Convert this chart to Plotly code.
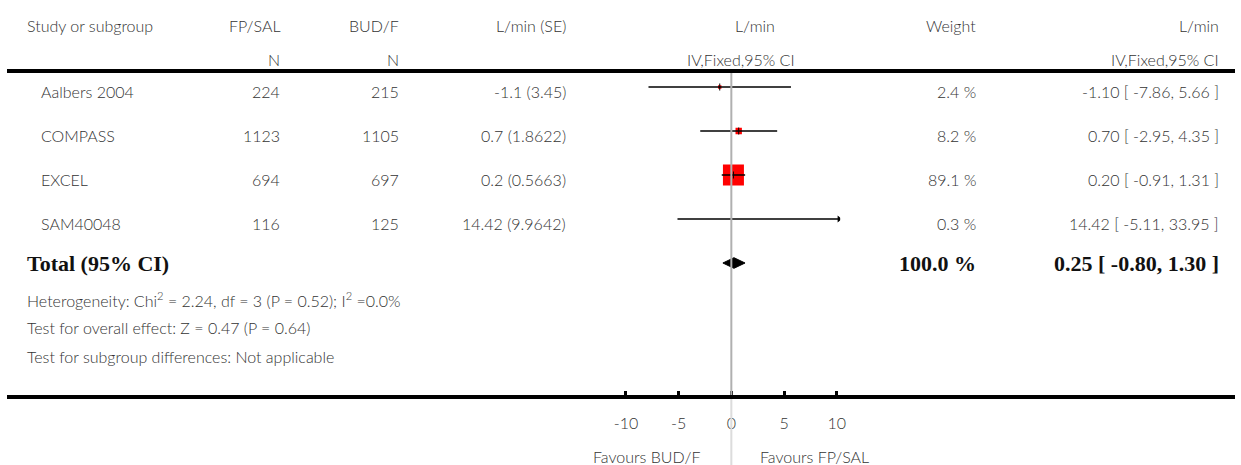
import plotly.graph_objects as go

# ---------------- data ----------------
studies = ["Aalbers 2004", "COMPASS", "EXCEL", "SAM40048"]
n_fpsal = [224, 1123, 694, 116]
n_budf = [215, 1105, 697, 125]
md_se_text = ["-1.1 (3.45)", "0.7 (1.8622)", "0.2 (0.5663)", "14.42 (9.9642)"]
md = [-1.1, 0.7, 0.2, 14.42]
ci_lo = [-7.86, -2.95, -0.91, -5.11]
ci_hi = [5.66, 4.35, 1.31, 33.95]
weights = [2.4, 8.2, 89.1, 0.3]
total_md, total_lo, total_hi = 0.25, -0.80, 1.30
total_weight = 100.0
tick_vals = [-10, -5, 0, 5, 10]
tick_text = ["-10", "-5", "0", "5", "10"]
heterogeneity = "Heterogeneity: Chi<sup>2</sup> = 2.24, df = 3 (P = 0.52); I<sup>2</sup> =0.0%"
overall = "Test for overall effect: Z = 0.47 (P = 0.64)"
subgroup = "Test for subgroup differences: Not applicable"

# ---------------- geometry ----------------
W, H = 1241, 465
ZERO_PX, PX_PER_UNIT = 732, 10.65
DOM_L, DOM_R = 620, 842
XMIN = (DOM_L - ZERO_PX) / PX_PER_UNIT
XMAX = (DOM_R - ZERO_PX) / PX_PER_UNIT
AXIS_PX = 397
ROW0_PX, ROW_STEP = 87, 44


def ry(p):
    return (p - ROW0_PX) / ROW_STEP


def px(x):
    return x / W


YTOP, YBOT = ry(0), ry(AXIS_PX)

SANS = dict(family="Lato", size=16, color="#333333", weight=300)
SERIF = dict(family="Liberation Serif", size=22, color="#111111", weight="bold")

fig = go.Figure()

# squares (weight-sized)
ys = list(range(len(studies)))
sizes = [21 * (w / max(weights)) ** 0.5 for w in weights]
fig.add_trace(go.Scatter(x=md, y=ys, mode="markers",
                         marker=dict(symbol="square", size=sizes, color="#ff0000",
                                     opacity=1, line=dict(width=0)),
                         opacity=1, hoverinfo="skip", showlegend=False))

# CI lines
for i in range(len(studies)):
    lo = max(ci_lo[i], XMIN + 0.05)
    hi = min(ci_hi[i], XMAX - 0.1)
    fig.add_trace(go.Scatter(x=[lo, hi], y=[i, i], mode="lines",
                             line=dict(color="black", width=1.3),
                             hoverinfo="skip", showlegend=False))
    if ci_hi[i] > XMAX:
        fig.add_trace(go.Scatter(x=[hi], y=[i], mode="markers",
                                 marker=dict(symbol="triangle-right", size=6, color="black"),
                                 hoverinfo="skip", showlegend=False))

# point estimate ticks
fig.add_trace(go.Scatter(x=[m for m in md if m < XMAX], y=[i for i, m in enumerate(md) if m < XMAX],
                         mode="markers",
                         marker=dict(symbol="line-ns", size=5, line=dict(color="black", width=1)),
                         hoverinfo="skip", showlegend=False))

# total diamond
dh = 5.3 / ROW_STEP
ty = len(studies)
fig.add_trace(go.Scatter(x=[total_lo, total_md, total_hi, total_md, total_lo],
                         y=[ty, ty - dh, ty, ty + dh, ty],
                         mode="lines", fill="toself", fillcolor="black",
                         line=dict(color="black", width=1),
                         hoverinfo="skip", showlegend=False))

# ---------------- shapes ----------------
shapes = [
    dict(type="line", xref="paper", yref="paper", x0=0, x1=1,
         y0=1 - 71 / H, y1=1 - 71 / H, line=dict(color="black", width=4)),
    dict(type="line", xref="paper", yref="paper", x0=0, x1=1,
         y0=1 - AXIS_PX / H, y1=1 - AXIS_PX / H, line=dict(color="black", width=4)),
    dict(type="line", xref="x", yref="paper", x0=0, x1=0,
         y0=1 - 73 / H, y1=1 - (AXIS_PX - 2) / H, line=dict(color="#b0b0b0", width=2)),
    dict(type="line", xref="x", yref="paper", x0=0, x1=0,
         y0=1 - (AXIS_PX + 2) / H, y1=0, line=dict(color="#dcdcdc", width=2)),
]

# ---------------- text ----------------
ann = []


def add(text, xp, y, anchor="right", font=SANS, yref="y"):
    ann.append(dict(text=text, x=px(xp), xref="paper", y=y, yref=yref,
                    xanchor=anchor, yanchor="middle", showarrow=False, font=font))


h1, h2 = ry(25), ry(59)
add("Study or subgroup", 18, h1, "left")
add("FP/SAL", 278, h1)
add("N", 278, h2)
add("BUD/F", 398, h1)
add("N", 398, h2)
add("L/min (SE)", 567, h1)
add("L/min", 778, h1)
add("IV,Fixed,95% CI", 798, h2)
add("Weight", 981, h1)
add("L/min", 1227, h1)
add("IV,Fixed,95% CI", 1227, h2)

for i, s in enumerate(studies):
    y = i + 4 / ROW_STEP
    add(s, 32, y, "left")
    add(str(n_fpsal[i]), 278, y)
    add(str(n_budf[i]), 398, y)
    add(md_se_text[i], 567, y)
    add(f"{weights[i]:.1f} %", 981, y)
    add(f"{md[i]:.2f} [ {ci_lo[i]:.2f}, {ci_hi[i]:.2f} ]", 1227, y)

add("Total (95% CI)", 18, ty, "left", SERIF)
add(f"{total_weight:.1f} %", 981, ty, "right", SERIF)
add(f"{total_md:.2f} [ {total_lo:.2f}, {total_hi:.2f} ]", 1227, ty, "right", SERIF)
add(heterogeneity, 18, ry(299), "left")
add(overall, 18, ry(327), "left")
add(subgroup, 18, ry(356), "left")

add("Favours BUD/F", 703, 1 - 456 / H, "right", yref="paper")
add("Favours FP/SAL", 759, 1 - 456 / H, "left", yref="paper")

fig.update_layout(
    width=W, height=H, margin=dict(l=0, r=0, t=0, b=0),
    paper_bgcolor="white", plot_bgcolor="white",
    shapes=shapes, annotations=ann, showlegend=False,
    xaxis=dict(domain=[px(DOM_L), px(DOM_R)], range=[XMIN, XMAX],
               tickvals=tick_vals, ticktext=tick_text, ticks="inside",
               ticklen=6, tickwidth=3, tickcolor="black", showgrid=False,
               zeroline=False, showline=False, tickfont=SANS,
               ticklabelstandoff=15, fixedrange=True),
    yaxis=dict(domain=[1 - AXIS_PX / H, 1], range=[YBOT, YTOP], visible=False,
               fixedrange=True),
)

fig.write_html("out.html", config={"displayModeBar": False},
               post_script="document.body.style.margin='0';document.body.style.overflow='hidden';")
